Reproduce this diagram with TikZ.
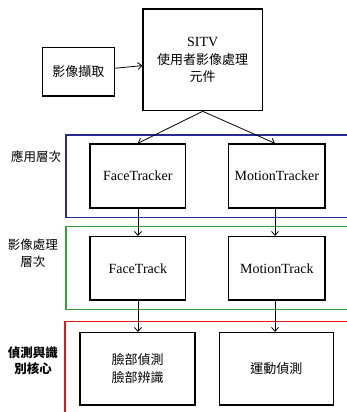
\documentclass[tikz,border=0pt]{standalone}
\usepackage{fontspec}
\setmainfont{Liberation Serif}
\newfontfamily\cjk{Noto Sans CJK TC}
\usetikzlibrary{arrows.meta}
\definecolor{layblue}{RGB}{40,40,150}
\definecolor{laygreen}{RGB}{50,160,50}
\definecolor{layred}{RGB}{230,20,20}
\begin{document}
\begin{tikzpicture}[x=1pt,y=-1pt,
  box/.style={draw,line width=1.3pt,inner sep=0pt,align=center,font=\fontsize{14}{17}\selectfont},
  lay/.style={line width=1.3pt},
  lbl/.style={font=\cjk\fontsize{12.5}{17}\selectfont,align=center,inner sep=0pt},
  arr/.style={-{Straight Barb[length=4pt,width=7pt]},line width=0.8pt}]
\useasboundingbox (0,0) rectangle (347,412);
% layer frames
\draw[lay,layblue] (66,135) rectangle (352,217.3);
\draw[lay,laygreen] (66,226.7) rectangle (352,309.3);
\draw[lay,layred] (65,321.7) rectangle (352,420);
% boxes
\node[box,minimum width=72pt,minimum height=48.3pt,font=\cjk\fontsize{13}{17}\selectfont] (cap) at (78.3,71.8) {影像擷取};
\node[box,minimum width=119.3pt,minimum height=101.7pt] (sitv) at (202.7,59.8) {SITV\\[1pt]{\cjk\fontsize{13}{18}\selectfont 使用者影像處理}\\{\cjk\fontsize{13}{18}\selectfont 元件}};
\node[box,minimum width=95.7pt,minimum height=64pt] (ftr) at (137.8,176) {FaceTracker};
\node[box,minimum width=96.3pt,minimum height=64pt] (mtr) at (276.8,176) {MotionTracker};
\node[box,minimum width=95.7pt,minimum height=63.3pt] (ft) at (137.8,268.3) {FaceTrack};
\node[box,minimum width=96.3pt,minimum height=63.3pt] (mt) at (276.8,268.3) {MotionTrack};
\node[box,minimum width=115pt,minimum height=72.3pt,font=\cjk\fontsize{13}{18}\selectfont] (face) at (137.5,368.8) {臉部偵測\\臉部辨識};
\node[box,minimum width=114pt,minimum height=72.3pt,font=\cjk\fontsize{13}{18}\selectfont] (mot) at (276.3,368.8) {運動偵測};
% labels
\node[lbl] (l1) at (36,157) {應用層次};
\node[lbl] (l2) at (33,253) {影像處理\\層次};
\node[lbl,font=\cjk\bfseries\fontsize{12.5}{16}\selectfont] (l3) at (33,361) {偵測與識\\別核心};
% connectors
\draw[arr] (cap) -- (sitv);
\draw[arr] (sitv.south) -- (ftr.north);
\draw[arr] (sitv.south) -- (mtr.north -| 275,0);
\draw[arr] (ftr.south -| 138,0) -- (ft.north -| 138,0);
\draw[arr] (mtr.south -| 275,0) -- (mt.north -| 275,0);
\draw[arr] (ft.south -| 138,0) -- (face.north -| 138,0);
\draw[arr] (mt.south -| 275,0) -- (mot.north -| 275,0);
\end{tikzpicture}
\end{document}
